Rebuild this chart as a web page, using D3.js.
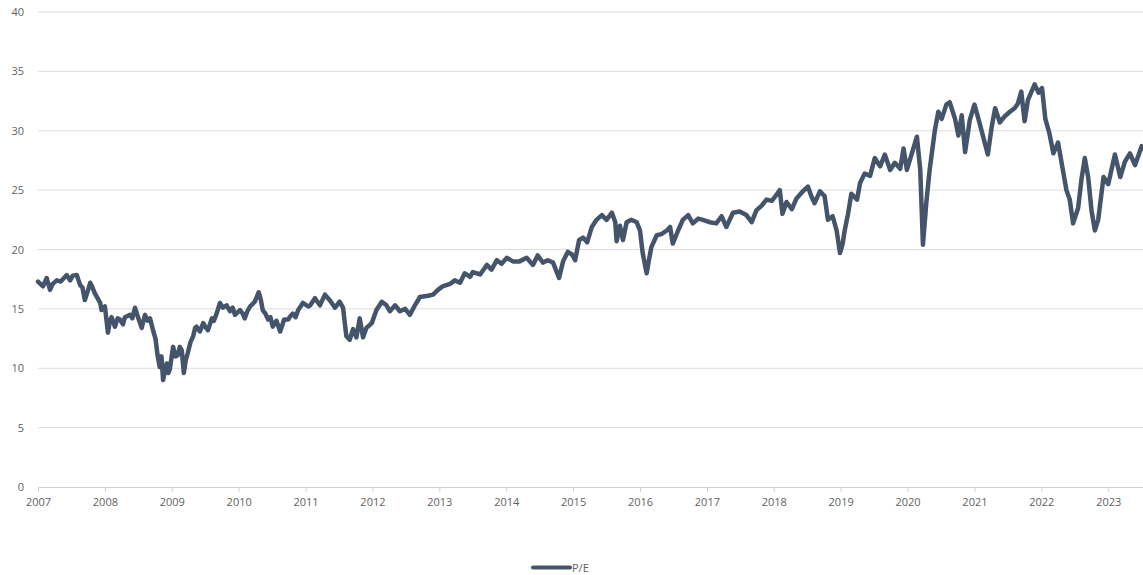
<!DOCTYPE html>
<html>
<head>
<meta charset="utf-8">
<script src="https://cdn.jsdelivr.net/npm/d3@7"></script>
<style>
  html, body { margin: 0; padding: 0; background: #fff; }
  svg { display: block; font-family: "Open Sans", "Liberation Sans", sans-serif; }
</style>
</head>
<body>
<svg id="chart" width="1143" height="575"></svg>
<script>
// ---- data (decimal years since 2007, P/E values) ----
const seriesName = "P/E";
const yTicks = [0, 5, 10, 15, 20, 25, 30, 35, 40];
const xTickLabels = ["2007","2008","2009","2010","2011","2012","2013","2014","2015","2016","2017","2018","2019","2020","2021","2022","2023"];
const tOffset = [
  0.00,0.075,0.13,0.18,0.22,0.28,0.34,0.43,0.48,0.52,0.58,0.63,0.665,0.70,0.75,0.78,0.815,0.85,0.89,0.93,0.95,
  1.00,1.046,1.076,1.10,1.15,1.19,1.225,1.27,1.30,1.375,1.41,1.45,1.495,1.55,1.60,1.64,1.675,1.72,1.756,1.79,1.82,1.846,1.87,1.90,1.925,1.95,1.97,
  2.02,2.055,2.09,2.12,2.15,2.18,2.21,2.24,2.28,2.32,2.35,2.37,2.42,2.47,2.50,2.54,2.60,2.63,2.67,2.72,2.765,2.82,2.87,2.91,2.945,
  3.02,3.06,3.09,3.13,3.17,3.24,3.30,3.33,3.36,3.40,3.44,3.475,3.51,3.565,3.62,3.68,3.74,3.775,3.81,3.85,3.89,3.96,
  4.04,4.07,4.14,4.215,4.29,4.365,4.44,4.51,4.56,4.61,4.66,4.71,4.76,4.81,4.86,4.91,4.99,
  5.06,5.14,5.21,5.26,5.34,5.41,5.49,5.56,5.635,5.71,5.83,5.905,5.98,
  6.05,6.16,6.23,6.31,6.38,6.46,6.50,6.61,6.71,6.78,6.86,6.93,
  7.01,7.10,7.20,7.305,7.40,7.47,7.55,7.62,7.70,7.79,7.85,7.92,7.98,
  8.03,8.09,8.15,8.21,8.28,8.35,8.43,8.50,8.58,8.63,8.65,8.70,8.745,8.80,8.87,8.95,
  9.00,9.04,9.10,9.13,9.17,9.25,9.32,9.40,9.45,9.49,9.57,9.64,9.72,9.79,9.87,9.94,
  10.04,10.14,10.22,10.29,10.39,10.49,10.59,10.67,10.74,10.82,10.89,10.97,
  11.04,11.09,11.13,11.19,11.27,11.34,11.435,11.51,11.56,11.61,11.69,11.76,11.81,11.88,11.94,11.99,
  12.03,12.06,12.11,12.16,12.245,12.29,12.36,12.44,12.51,12.59,12.66,12.74,12.81,12.89,12.94,12.99,
  13.07,13.14,13.19,13.23,13.28,13.33,13.41,13.46,13.51,13.58,13.63,13.71,13.76,13.81,13.86,13.93,
  14.00,14.06,14.13,14.20,14.26,14.31,14.38,14.45,14.53,14.60,14.65,14.70,14.75,14.80,14.90,14.96,
  15.01,15.06,15.12,15.18,15.25,15.30,15.375,15.425,15.475,15.55,15.60,15.65,15.70,15.75,15.80,15.85,15.93,
  16.00,16.10,16.18,16.25,16.325,16.40,16.50,16.52
];
const peValues = [
  17.3,16.9,17.6,16.6,17.1,17.4,17.3,17.85,17.4,17.8,17.85,17.0,16.8,15.75,16.6,17.2,16.8,16.3,15.9,15.5,14.9,
  15.2,13.0,14.0,14.3,13.5,14.2,14.1,13.7,14.3,14.5,14.2,15.1,14.3,13.4,14.5,14.0,14.2,13.2,12.5,11.0,10.1,11.0,9.0,9.8,10.4,9.6,9.9,
  11.8,11.0,11.1,11.8,11.5,9.6,10.7,11.3,12.2,12.7,13.4,13.5,13.1,13.8,13.5,13.2,14.2,14.0,14.6,15.5,15.1,15.3,14.8,15.1,14.5,
  14.9,14.6,14.2,14.8,15.2,15.6,16.4,15.8,14.9,14.6,14.1,14.3,13.5,14.0,13.1,14.1,14.1,14.4,14.6,14.3,14.9,15.5,
  15.2,15.3,15.9,15.3,16.2,15.7,15.1,15.6,15.1,12.7,12.4,13.3,12.6,14.2,12.6,13.4,13.8,
  14.9,15.6,15.3,14.8,15.3,14.8,15.0,14.5,15.3,16.0,16.1,16.2,16.6,
  16.9,17.1,17.4,17.2,18.0,17.7,18.1,17.9,18.7,18.3,19.1,18.8,
  19.3,19.0,19.0,19.3,18.7,19.5,18.9,19.1,18.9,17.6,19.0,19.8,19.6,
  19.1,20.8,21.0,20.6,21.9,22.5,22.9,22.5,23.1,22.3,20.7,22.0,20.8,22.3,22.5,22.3,
  21.6,19.7,18.0,19.0,20.2,21.2,21.3,21.6,21.9,20.5,21.6,22.5,22.9,22.2,22.6,22.5,
  22.3,22.2,22.8,21.9,23.1,23.2,22.9,22.3,23.3,23.7,24.2,24.1,
  24.6,25.0,23.0,24.0,23.4,24.3,24.9,25.3,24.5,23.9,24.9,24.5,22.5,22.8,21.6,19.7,
  20.5,21.6,23.0,24.7,24.2,25.6,26.4,26.2,27.7,27.0,28.0,26.7,27.3,26.8,28.5,26.7,
  28.2,29.5,26.7,20.4,23.9,26.7,30.1,31.6,31.0,32.2,32.4,31.0,29.6,31.3,28.2,30.9,
  32.2,31.0,29.5,28.0,30.4,31.9,30.7,31.2,31.6,31.9,32.3,33.3,30.8,32.6,33.9,33.2,
  33.6,31.0,29.8,28.1,29.0,27.4,25.0,24.2,22.2,23.5,25.9,27.7,26.1,23.3,21.6,22.5,26.1,
  25.5,28.0,26.1,27.4,28.1,27.1,28.7,28.5
];
const startYear = 2007;
const endYear = 2023.52;

const data = tOffset.map((t, i) => ({ t: startYear + t, v: peValues[i] }));

// ---- layout ----
const svg = d3.select("#chart");
const margin = { left: 38, right: 0, top: 12, bottom: 88 };
const W = 1143, H = 575;
const x = d3.scaleLinear().domain([startYear, endYear]).range([margin.left, W - margin.right]);
const y = d3.scaleLinear().domain([0, 40]).range([487, 12]);

// gridlines
svg.append("g").selectAll("line")
  .data(yTicks.filter(d => d > 0))
  .join("line")
  .attr("x1", margin.left).attr("x2", W)
  .attr("y1", d => y(d)).attr("y2", d => y(d))
  .attr("stroke", "#dcdcdc").attr("stroke-width", 1);

// y labels
svg.append("g").selectAll("text")
  .data(yTicks)
  .join("text")
  .attr("x", 24).attr("y", d => y(d) + 4)
  .attr("text-anchor", "end")
  .attr("font-size", 11)
  .attr("fill", "#5f5f5f")
  .text(d => d);

// x axis
const xAxis = d3.axisBottom(x)
  .tickValues(xTickLabels.map(Number))
  .tickFormat((d, i) => xTickLabels[i])
  .tickSize(5)
  .tickPadding(6);
const gx = svg.append("g").attr("transform", `translate(0,${y(0)})`).call(xAxis);
gx.select(".domain").attr("stroke", "#d0d0d0").attr("d", `M${margin.left},0.5H${W}`);
gx.selectAll(".tick line").attr("stroke", "#d0d0d0");
gx.selectAll(".tick text").attr("fill", "#5f5f5f").attr("font-size", 11)
  .attr("font-family", "'Open Sans', 'Liberation Sans', sans-serif");

// line
const line = d3.line().x(d => x(d.t)).y(d => y(d.v)).curve(d3.curveLinear);
svg.append("path")
  .datum(data)
  .attr("fill", "none")
  .attr("stroke", "#44546A")
  .attr("stroke-width", 4.5)
  .attr("stroke-linejoin", "round")
  .attr("stroke-linecap", "round")
  .attr("d", line);

// legend
const lg = svg.append("g");
lg.append("line").attr("x1", 533).attr("x2", 570).attr("y1", 567.5).attr("y2", 567.5)
  .attr("stroke", "#44546A").attr("stroke-width", 4).attr("stroke-linecap", "round");
lg.append("text").attr("x", 572).attr("y", 571.5).attr("font-size", 11).attr("fill", "#5f5f5f").text(seriesName);
</script>
</body>
</html>
